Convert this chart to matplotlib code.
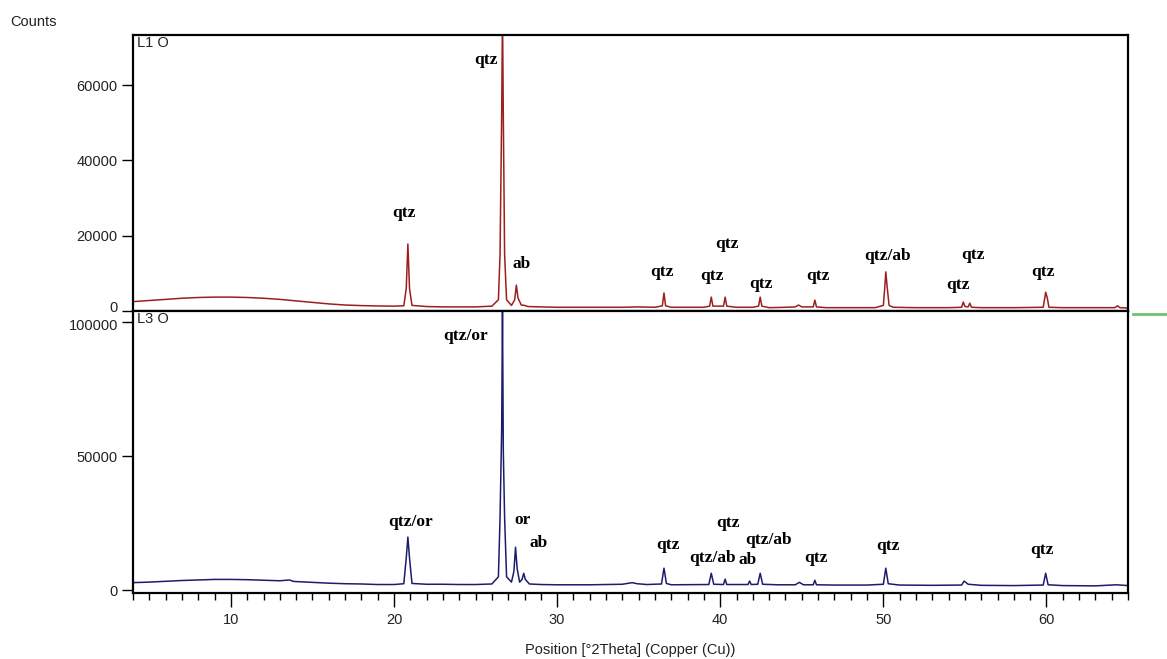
import numpy as np
import matplotlib
matplotlib.use('Agg')
from matplotlib import pyplot as plt
from matplotlib.lines import Line2D
from matplotlib.ticker import MultipleLocator
import matplotlib.transforms as mtransforms

# L1 O trace
x_l1 = [4.0, 5.0, 6.0, 7.0, 8.0, 9.0, 10.0, 11.0, 12.0, 13.0, 14.0, 15.0, 16.0, 17.0, 18.0, 19.0, 20.0,
        20.6, 20.75, 20.85, 20.95, 21.1, 22.0, 23.0, 24.0, 25.0, 26.0, 26.4, 26.5, 26.6, 26.65, 26.7, 26.78,
        26.9, 27.2, 27.4, 27.5, 27.6, 27.8, 28.0, 28.2, 29.0, 30.0, 31.0, 32.0, 33.0, 34.0, 35.0, 36.0,
        36.45, 36.55, 36.65, 37.0, 38.0, 39.0, 39.35, 39.45, 39.55, 40.2, 40.3, 40.4, 41.0, 42.0, 42.35,
        42.45, 42.55, 43.0, 44.0, 44.6, 44.8, 45.0, 45.7, 45.8, 45.9, 46.5, 48.0, 49.5, 50.0, 50.1, 50.15,
        50.22, 50.35, 50.6, 52.0, 54.0, 54.8, 54.9, 55.0, 55.2, 55.3, 55.4, 56.0, 58.0, 59.8, 59.9, 59.95,
        60.05, 60.15, 61.0, 63.0, 64.2, 64.35, 64.5, 65.0]
y_l1 = [2500, 2800, 3100, 3400, 3600, 3700, 3700, 3600, 3400, 3100, 2700, 2300, 1900, 1600, 1450, 1350, 1300,
        1400, 6000, 17800, 6000, 1500, 1200, 1100, 1100, 1100, 1300, 3000, 15000, 52000, 80000, 52000, 15000,
        3000, 1500, 3000, 6900, 3500, 1600, 1500, 1200, 1100, 1000, 1000, 1000, 1000, 1000, 1100, 1000,
        1400, 4800, 1400, 1000, 1000, 1000, 1300, 3700, 1300, 1300, 3700, 1300, 1000, 1000, 1300,
        3700, 1300, 900, 1000, 1100, 1600, 1100, 1100, 2900, 1100, 900, 900, 900, 1500, 7000, 10400,
        7000, 1500, 1000, 900, 900, 1000, 2400, 1200, 1100, 2100, 1000, 900, 900, 1000, 3500, 5000,
        3500, 1000, 900, 900, 900, 1400, 900, 800]

# L3 O trace
x_l3 = [4.0, 5.0, 6.0, 7.0, 8.0, 9.0, 10.0, 11.0, 12.0, 13.0, 13.6, 13.8, 14.0, 15.0, 16.0, 17.0, 18.0, 19.0,
        20.0, 20.6, 20.75, 20.85, 20.95, 21.1, 22.0, 23.0, 24.0, 25.0, 26.0, 26.4, 26.5, 26.6, 26.65, 26.7,
        26.78, 26.9, 27.2, 27.35, 27.45, 27.55, 27.7, 27.85, 27.95, 28.05, 28.3, 29.0, 30.0, 32.0, 34.0,
        34.6, 34.9, 35.5, 36.4, 36.55, 36.7, 37.0, 39.3, 39.45, 39.6, 40.2, 40.3, 40.4, 41.7, 41.8, 41.9,
        42.3, 42.45, 42.6, 43.5, 44.6, 44.85, 45.1, 45.7, 45.8, 45.9, 47.0, 49.0, 50.0, 50.15, 50.3, 51.0,
        53.0, 54.8, 54.95, 55.2, 56.0, 58.0, 59.8, 59.95, 60.1, 61.0, 63.0, 64.3, 65.0]
y_l3 = [2800, 3000, 3300, 3600, 3800, 4000, 4000, 3900, 3700, 3500, 3800, 3300, 3200, 2900, 2600, 2400, 2300, 2100,
        2100, 2400, 12000, 19800, 12000, 2500, 2200, 2200, 2100, 2100, 2300, 5000, 27000, 60000, 106000, 52000,
        27000, 5000, 3000, 7000, 16000, 8000, 3000, 4000, 6300, 4000, 2300, 2100, 2000, 2000, 2200,
        2800, 2400, 2100, 2300, 8200, 2500, 2000, 2100, 6300, 2200, 2100, 4100, 2100, 2100, 3400, 2100,
        2200, 6300, 2200, 2000, 2000, 2900, 2000, 2000, 3700, 2000, 1900, 1900, 2200, 8200, 2400, 1900,
        1800, 1900, 3400, 2200, 1800, 1700, 1900, 6300, 2000, 1700, 1600, 2000, 1700]

# phase labels (text, 2theta, counts)
lab_l1 = ['qtz', 'qtz', 'ab', 'qtz', 'qtz', 'qtz', 'qtz', 'qtz', 'qtz/ab', 'qtz', 'qtz', 'qtz']
lab_l1_x = [20.6, 25.65, 27.8, 36.45, 39.5, 40.4, 42.5, 46.0, 50.25, 54.55, 55.5, 59.8]
lab_l1_y = [26000, 66700, 12500, 10400, 9300, 17800, 7200, 9300, 14600, 6900, 14900, 10400]

lab_l3 = ['qtz/or', 'qtz/or', 'or', 'ab', 'qtz', 'qtz/ab', 'qtz', 'ab', 'qtz/ab', 'qtz', 'qtz', 'qtz']
lab_l3_x = [21.0, 24.4, 27.85, 28.85, 36.8, 39.5, 40.5, 41.7, 42.95, 45.85, 50.3, 59.75]
lab_l3_y = [25400, 94800, 26100, 17500, 16800, 11900, 25000, 11200, 18600, 11900, 16400, 14900]

red = '#9b1f1f'
navy = '#1c1c6e'
tick_font = 'Liberation Sans'
lab_font = dict(family='Liberation Serif', weight='bold', size=12.5)

fig = plt.figure(figsize=(11.67, 6.59), dpi=100)
ax1 = fig.add_axes([0.114, 0.528, 0.8526, 0.4188])
ax2 = fig.add_axes([0.114, 0.1, 0.8526, 0.428])

ax1.plot(x_l1, y_l1, color=red, lw=1.1)
ax2.plot(x_l3, y_l3, color=navy, lw=1.1)

ax1.set_xlim(4, 65)
ax2.set_xlim(4, 65)
ax1.set_ylim(0, 73300)
ax2.set_ylim(-1100, 104100)

for t, x, y in zip(lab_l1, lab_l1_x, lab_l1_y):
    ax1.text(x, y, t, ha='center', va='center', **lab_font)
for t, x, y in zip(lab_l3, lab_l3_x, lab_l3_y):
    ax2.text(x, y, t, ha='center', va='center', **lab_font)

ax1.set_yticks([0, 20000, 40000, 60000])
ax2.set_yticks([0, 50000, 100000])
ax1.set_xticks([])
ax2.xaxis.set_major_locator(MultipleLocator(10))
ax2.xaxis.set_minor_locator(MultipleLocator(1))

for ax in (ax1, ax2):
    for s in ax.spines.values():
        s.set_linewidth(1.6)
        s.set_color('black')
    ax.tick_params(axis='y', direction='out', length=8, width=1, labelsize=10.5, pad=3)
    for lab in ax.get_yticklabels():
        lab.set_fontfamily(tick_font)
        lab.set_color('#222222')
ax2.tick_params(axis='x', which='major', direction='out', length=10, width=1, labelsize=10.5, pad=4)
ax2.tick_params(axis='x', which='minor', direction='out', length=5, width=1)
for lab in ax2.get_xticklabels():
    lab.set_fontfamily(tick_font)
    lab.set_color('#222222')

# nudge the two labels that meet at the panel join apart a little
fig.canvas.draw()
ax1.get_yticklabels()[0].set_transform(ax1.get_yticklabels()[0].get_transform() +
                                       mtransforms.ScaledTranslation(0, 3 / 72, fig.dpi_scale_trans))
ax2.get_yticklabels()[-1].set_transform(ax2.get_yticklabels()[-1].get_transform() +
                                        mtransforms.ScaledTranslation(0, -2 / 72, fig.dpi_scale_trans))

ax1.text(0.004, 0.995, 'L1 O', transform=ax1.transAxes, ha='left', va='top',
         family=tick_font, size=10.5, color='#222222')
ax2.text(0.004, 0.995, 'L3 O', transform=ax2.transAxes, ha='left', va='top',
         family=tick_font, size=10.5, color='#222222')

fig.text(0.009, 0.966, 'Counts', ha='left', va='center', family=tick_font, size=10.5, color='#222222')
ax2.set_xlabel('Position [°2Theta] (Copper (Cu))', family=tick_font, size=10.5, color='#222222', labelpad=12)

# green marker line at right edge
fig.add_artist(Line2D([0.971, 1.0], [0.524, 0.524], color='#6cc36c', lw=2))

fig.savefig('out.png', dpi=100)
print('complete')
